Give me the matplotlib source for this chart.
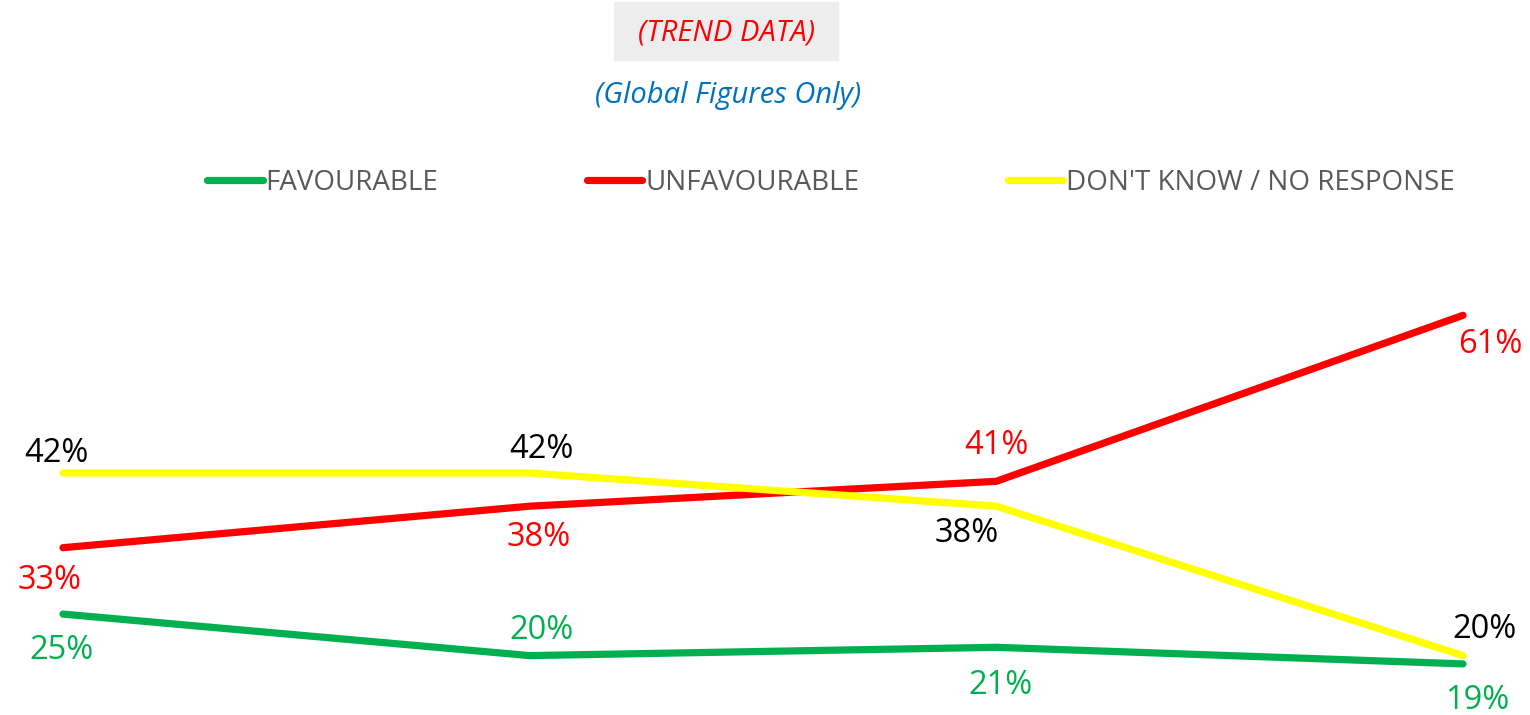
import matplotlib.pyplot as plt
from matplotlib.patches import Rectangle

plt.rcParams["font.family"] = ["Open Sans", "DejaVu Sans"]

waves = ["W1", "W2", "W3", "W4"]
favourable = [25, 20, 21, 19]
unfavourable = [33, 38, 41, 61]
dont_know = [42, 42, 38, 20]

series = [
    ("FAVOURABLE", favourable, "#00B050", "#00B050"),
    ("UNFAVOURABLE", unfavourable, "#FF0000", "#FF0000"),
    ("DON'T KNOW / NO RESPONSE", dont_know, "#FFFF00", "#000000"),
]

# label offsets (pixels) per series / point
offsets = {
    "FAVOURABLE": [(-1, -36), (12, 25), (4, -38), (14, -37)],
    "UNFAVOURABLE": [(-13, -33), (9, -31), (0, 36), (27, -29)],
    "DON'T KNOW / NO RESPONSE": [(-7, 20), (12, 23), (-30, -27), (21, 26)],
}

fig = plt.figure(figsize=(15.3, 7.15), dpi=100)
ax = fig.add_axes([0, 0, 1, 1])
x = list(range(len(waves)))

for name, vals, color, lab_color in series:
    ax.plot(x, vals, color=color, lw=5.2, solid_capstyle="round", label=name)
    for xi, v, (dx, dy) in zip(x, vals, offsets[name]):
        ax.annotate(f"{v}%", (xi, v), xytext=(dx, dy), textcoords="offset pixels",
                    ha="center", va="center", fontsize=23.5, color=lab_color)

ax.set_xlim(-63 / 466.7, 3 + 67 / 466.7)
ax.set_ylim(42 - (715 - 473) / 8.3, 42 + 473 / 8.3)
ax.axis("off")

leg = ax.legend(loc="center", bbox_to_anchor=(831 / 1530, 1 - 183 / 715), ncol=3,
                frameon=False, fontsize=20, handlelength=2.0, handletextpad=0.1,
                columnspacing=5.35, labelcolor="#595959")

fig.patches.append(Rectangle((614 / 1530, 1 - 60 / 715), 224 / 1530, 58 / 715,
                             transform=fig.transFigure, color="#EDEDED", zorder=0))
fig.text(726 / 1530, 1 - 33 / 715, "(TREND DATA)", ha="center", va="center",
         fontsize=21, style="italic", color="#FF0000")
fig.text(728 / 1530, 1 - 96 / 715, "(Global Figures Only)", ha="center", va="center",
         fontsize=21, style="italic", color="#0070C0")

fig.savefig("out.png", dpi=100)
